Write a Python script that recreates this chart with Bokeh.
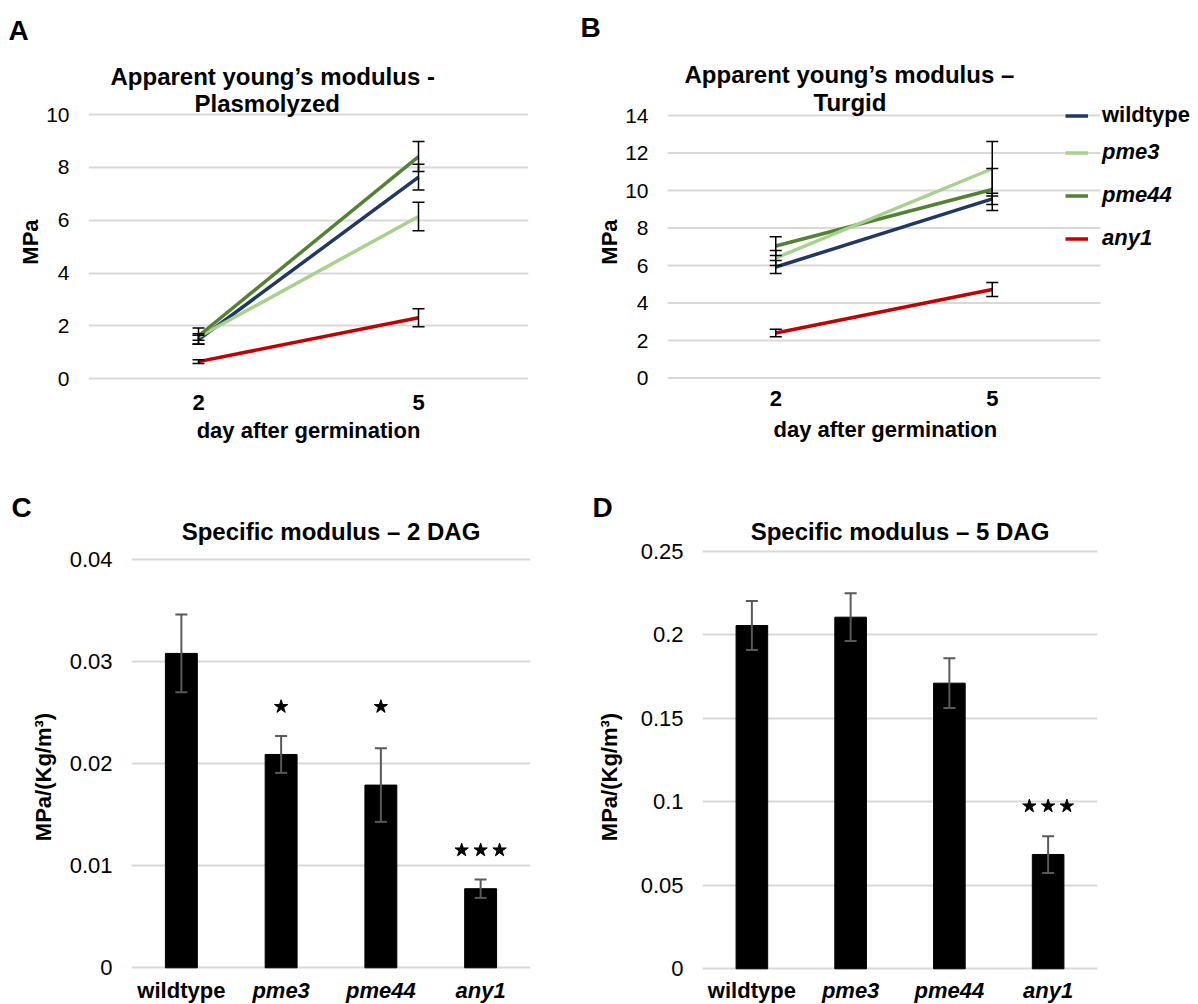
from bokeh.plotting import figure
from bokeh.layouts import row, column
from bokeh.models import (ColumnDataSource, FactorRange, Range1d, FixedTicker,
                          Whisker, TeeHead, Legend, LegendItem, Title, LabelSet,
                          CustomJSTickFormatter)
from bokeh.core.properties import value
from bokeh.embed import file_html
from bokeh.resources import INLINE

FONT = "Liberation Sans"

# ---------------- data ----------------
days = ["2", "5"]
genotypes = ["wildtype", "pme3", "pme44", "any1"]

# Apparent Young's modulus - plasmolyzed (MPa)
plas_wildtype = [1.48, 7.63]
plas_wildtype_err = [0.17, 0.49]
plas_pme3 = [1.58, 6.14]
plas_pme3_err = [0.12, 0.54]
plas_pme44 = [1.62, 8.41]
plas_pme44_err = [0.30, 0.57]
plas_any1 = [0.65, 2.31]
plas_any1_err = [0.07, 0.34]

# Apparent Young's modulus - turgid (MPa)
turg_wildtype = [5.92, 9.55]
turg_wildtype_err = [0.35, 0.30]
turg_pme3 = [6.40, 11.16]
turg_pme3_err = [0.40, 1.45]
turg_pme44 = [7.04, 10.05]
turg_pme44_err = [0.50, 1.12]
turg_any1 = [2.40, 4.72]
turg_any1_err = [0.20, 0.37]

# Specific modulus (MPa/(Kg/m3))
spec2 = [0.0308, 0.0209, 0.0179, 0.00775]
spec2_err = [0.0038, 0.0018, 0.0036, 0.0009]
spec2_sig = [0, 1, 1, 3]
spec5 = [0.2055, 0.2105, 0.1710, 0.0684]
spec5_err = [0.0147, 0.0143, 0.0149, 0.0110]
spec5_sig = [0, 0, 0, 3]

ticks_plas = [0, 2, 4, 6, 8, 10]
ticks_turg = [0, 2, 4, 6, 8, 10, 12, 14]
ticks_spec2 = [0, 0.01, 0.02, 0.03, 0.04]
ticks_spec5 = [0, 0.05, 0.1, 0.15, 0.2, 0.25]

COLORS = {"wildtype": "#1F3864", "pme3": "#A9D18E", "pme44": "#548235", "any1": "#C00000"}
GRID = "#d9d9d9"


def padded_range(ymax, top_px, zero_px, frame_top, frame_bottom):
    """y range such that ymax sits at top_px and 0 at zero_px inside the frame."""
    scale = (zero_px - top_px) / ymax
    return Range1d(-(frame_bottom - zero_px) / scale, ymax + (top_px - frame_top) / scale)


def base_fig(width, height, x_range, y_range, ticks, borders):
    p = figure(width=width, height=height, x_range=x_range, y_range=y_range,
               output_backend="svg", toolbar_location=None,
               min_border_left=borders[0], min_border_right=borders[1],
               min_border_top=borders[2], min_border_bottom=borders[3])
    p.outline_line_color = None
    p.background_fill_color = "white"
    p.border_fill_color = "white"
    p.xgrid.visible = False
    p.ygrid.grid_line_color = GRID
    p.ygrid.grid_line_width = 2
    p.yaxis.ticker = FixedTicker(ticks=ticks)
    p.yaxis.formatter = CustomJSTickFormatter(code="return String(Math.round(tick*1000)/1000);")
    for ax in (p.xaxis[0], p.yaxis[0]):
        ax.axis_line_color = None
        ax.major_tick_line_color = None
        ax.minor_tick_line_color = None
        ax.major_tick_out = 0
        ax.major_tick_in = 0
        ax.minor_tick_out = 0
        ax.minor_tick_in = 0
    p.yaxis.major_label_text_font = FONT
    p.yaxis.major_label_text_color = "black"
    p.yaxis.major_label_standoff = 19
    p.yaxis.axis_label_text_font = FONT
    p.yaxis.axis_label_text_font_style = "bold"
    p.yaxis.axis_label_text_color = "black"
    return p


def add_titles(p, items, side="above"):
    # items ordered from nearest-to-frame outward
    for text, size, align, offset, standoff in items:
        p.add_layout(Title(text=text, text_font=FONT, text_font_size=size,
                           text_font_style="bold", text_color="black",
                           align=align, offset=offset, standoff=standoff), side)


def line_panel(series, x_range, xs, ticks, y_range, width, height, borders,
               tick_standoff, label_standoff, manual_grid=False, axis_xlabel=True):
    p = base_fig(width, height, x_range, y_range, ticks, borders)
    p.yaxis.major_label_text_font_size = "21px"
    p.yaxis.axis_label = "MPa"
    p.yaxis.axis_label_text_font_size = "22px"
    p.yaxis.axis_label_standoff = 0
    if axis_xlabel:
        p.xaxis.axis_label = "day after germination"
        p.xaxis.axis_label_text_font = FONT
        p.xaxis.axis_label_text_font_size = "22px"
        p.xaxis.axis_label_text_font_style = "bold"
        p.xaxis.axis_label_text_color = "black"
        p.xaxis.axis_label_standoff = label_standoff
    p.xaxis.major_label_text_font = FONT
    p.xaxis.major_label_text_font_size = "22px"
    p.xaxis.major_label_text_font_style = "bold"
    p.xaxis.major_label_text_color = "black"
    p.xaxis.major_label_standoff = tick_standoff
    if manual_grid:
        p.ygrid.visible = False
        p.segment(x0=[0] * len(ticks), x1=[len(days)] * len(ticks), y0=ticks, y1=ticks,
                  line_color=GRID, line_width=2)
    renderers = {}
    sources = []
    for name, vals, errs in series:
        src = ColumnDataSource(dict(x=xs, y=vals,
                                    upper=[v + e for v, e in zip(vals, errs)],
                                    lower=[v - e for v, e in zip(vals, errs)]))
        renderers[name] = p.line("x", "y", source=src, line_color=COLORS[name], line_width=3.5)
        sources.append(src)
    for src in sources:
        p.add_layout(Whisker(base="x", upper="upper", lower="lower", source=src,
                             level="overlay", line_color="black", line_width=1.5,
                             upper_head=TeeHead(size=12, line_color="black", line_width=1.5),
                             lower_head=TeeHead(size=12, line_color="black", line_width=1.5)))
    return p, renderers


def bar_panel(vals, errs, sig, ymax, ticks, y_range, width, height, borders,
              axis_standoff, label_offset):
    p = base_fig(width, height, FactorRange(*genotypes), y_range, ticks, borders)
    p.xaxis.visible = False
    p.yaxis.major_label_text_font_size = "22px"
    p.yaxis.axis_label = "MPa/(Kg/m³)"
    p.yaxis.axis_label_text_font_size = "22px"
    p.yaxis.axis_label_standoff = axis_standoff
    src = ColumnDataSource(dict(x=genotypes, top=vals,
                                upper=[v + e for v, e in zip(vals, errs)],
                                lower=[v - e for v, e in zip(vals, errs)]))
    p.vbar(x="x", top="top", width=0.32, source=src, fill_color="black", line_color="black")
    p.add_layout(Whisker(base="x", upper="upper", lower="lower", source=src,
                         level="overlay", line_color="#595959", line_width=2,
                         upper_head=TeeHead(size=12, line_color="#595959", line_width=2),
                         lower_head=TeeHead(size=12, line_color="#595959", line_width=2)))
    # significance stars
    sx, sy = [], []
    for n in sorted(set(sig) - {0}):
        idx = [i for i, s in enumerate(sig) if s == n]
        level = max(vals[i] + errs[i] for i in idx) + 0.072 * ymax
        offs = [0.0] if n == 1 else [-0.19, 0.0, 0.19]
        for i in idx:
            for o in offs:
                sx.append(i + 0.5 + o)
                sy.append(level)
    p.scatter(x=sx, y=sy, marker="star", size=14, fill_color="black", line_color="black")
    # category labels (wildtype upright, mutants italic)
    xs = [i + 0.5 for i in range(len(genotypes))]
    for style, keep in (("bold", lambda g: g == "wildtype"), ("bold italic", lambda g: g != "wildtype")):
        lab_src = ColumnDataSource(dict(x=[x for x, g in zip(xs, genotypes) if keep(g)],
                                        y=[0] * sum(1 for g in genotypes if keep(g)),
                                        t=[g for g in genotypes if keep(g)]))
        p.add_layout(LabelSet(x="x", y="y", text="t", source=lab_src, y_offset=label_offset,
                              text_font=value(FONT), text_font_size=value("22px"),
                              text_font_style=value(style), text_color="black",
                              text_align="center", text_baseline="middle"))
    return p


ROW1_TOP, ROW1_BOTTOM = 102, 381

# ---------------- Panel A ----------------
pA, _ = line_panel([("wildtype", plas_wildtype, plas_wildtype_err),
                    ("pme3", plas_pme3, plas_pme3_err),
                    ("pme44", plas_pme44, plas_pme44_err),
                    ("any1", plas_any1, plas_any1_err)],
                   FactorRange(*days), days, ticks_plas,
                   padded_range(10, 114, 378.3, ROW1_TOP, ROW1_BOTTOM),
                   575, 470, (88, 47, ROW1_TOP, 470 - ROW1_BOTTOM), 13, 5)
add_titles(pA, [("Plasmolyzed", "24px", "left", 106, -29),
                ("Apparent young\u2019s modulus -", "24px", "left", 22, 26),
                ("A", "28px", "left", -80, 4)])

# ---------------- Panel B ----------------
b_xs = [i + 0.5 for i in range(len(days))]
b_xend = len(days) * (1198 - 667) / (1100 - 667)
pB, rB = line_panel([("wildtype", turg_wildtype, turg_wildtype_err),
                     ("pme44", turg_pme44, turg_pme44_err),
                     ("pme3", turg_pme3, turg_pme3_err),
                     ("any1", turg_any1, turg_any1_err)],
                    Range1d(0, b_xend), b_xs, ticks_turg,
                    padded_range(14, 115, 377.5, ROW1_TOP, ROW1_BOTTOM),
                    623, 470, (92, 0, ROW1_TOP, 470 - ROW1_BOTTOM), 9, 10,
                    manual_grid=True, axis_xlabel=False)
pB.xaxis.ticker = FixedTicker(ticks=b_xs)
pB.xaxis.major_label_overrides = {x: d for x, d in zip(b_xs, days)}
add_titles(pB, [("day after germination", "22px", "left", 106, 12)], side="below")
add_titles(pB, [("Turgid", "24px", "left", 146, -27),
                ("Apparent young\u2019s modulus \u2013", "24px", "left", 17, 25),
                ("B", "28px", "left", -87, 7)])

leg_common = dict(label_text_font=FONT, label_text_font_size="22px", label_text_color="black",
                  glyph_width=23, glyph_height=25, label_height=25, label_standoff=14,
                  spacing=17, padding=0, margin=0, border_line_color=None,
                  background_fill_alpha=0)
pB.add_layout(Legend(items=[LegendItem(label="wildtype", renderers=[rB["wildtype"]])],
                     location=(398, 253), label_text_font_style="bold", **leg_common))
pB.add_layout(Legend(items=[LegendItem(label=g, renderers=[rB[g]]) for g in ["pme3", "pme44", "any1"]],
                     location=(398, 130), label_text_font_style="bold italic", **leg_common))

# ---------------- Panel C ----------------
pC = bar_panel(spec2, spec2_err, spec2_sig, 0.04, ticks_spec2,
               padded_range(0.04, 559, 967.3, 549, 1004),
               585, 534, (131, 55, 79, 0), 11, -23)
add_titles(pC, [("Specific modulus \u2013 2 DAG", "24px", "center", 0, 9),
                ("C", "28px", "left", -120, -23)])

# ---------------- Panel D ----------------
pD = bar_panel(spec5, spec5_err, spec5_sig, 0.25, ticks_spec5,
               padded_range(0.25, 550.7, 968.3, 549, 1004),
               613, 534, (117, 101, 79, 0), 16, -22)
add_titles(pD, [("Specific modulus \u2013 5 DAG", "24px", "center", 0, 9),
                ("D", "28px", "left", -110, -23)])

layout = column(row(pA, pB), row(pC, pD))
open("out.html", "w").write(file_html(layout, INLINE))
